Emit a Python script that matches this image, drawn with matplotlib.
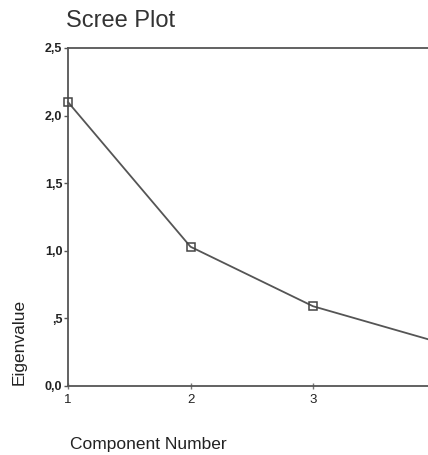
import matplotlib
matplotlib.use("Agg")
import matplotlib.pyplot as plt
from matplotlib.ticker import FixedLocator, FixedFormatter

# eigenvalues per component
components = [1, 2, 3, 4]
eigenvalues = [2.10, 1.03, 0.59, 0.33]

y_ticks = [0.0, 0.5, 1.0, 1.5, 2.0, 2.5]
y_labels = ["0,0", ",5", "1,0", "1,5", "2,0", "2,5"]
x_ticks = [1, 2, 3]
x_labels = ["1", "2", "3"]

plt.rcParams['font.family'] = ['Liberation Sans', 'DejaVu Sans']

W, H = 428, 455
fig = plt.figure(figsize=(W / 100, H / 100), dpi=100)
fig.patch.set_facecolor("white")

left, right, top, bottom = 68, 428, 48, 386
ax = fig.add_axes([left / W, (H - bottom) / H, (right - left) / W, (bottom - top) / H])

ax.plot(components, eigenvalues, color="#555555", linewidth=1.3,
        marker="s", markersize=6, markerfacecolor="none",
        markeredgecolor="#444444", markeredgewidth=1.1, clip_on=False, zorder=3)

ax.set_xlim(1, 1 + (right - left) / 122.5)
ax.set_ylim(0, 2.5)

ax.yaxis.set_major_locator(FixedLocator(y_ticks))
ax.yaxis.set_major_formatter(FixedFormatter(y_labels))
ax.xaxis.set_major_locator(FixedLocator(x_ticks))
ax.xaxis.set_major_formatter(FixedFormatter(x_labels))

for s in ["left", "bottom", "top"]:
    ax.spines[s].set_color("#555555")
    ax.spines[s].set_linewidth(1.3)
ax.spines["right"].set_visible(False)

ax.tick_params(axis="y", direction="out", length=3, width=1, color="#555555",
               labelsize=9, labelcolor="#222222", pad=1)
ax.tick_params(axis="x", direction="inout", length=4, width=1, color="#777777",
               labelsize=9.5, labelcolor="#222222", pad=4)
for t in ax.get_yticklabels():
    t.set_fontweight("bold")

fig.text(66 / W, 1 - 21 / H, "Scree Plot", fontsize=17, color="#333333",
         ha="left", va="center")
fig.text(19 / W, 1 - 342 / H, "Eigenvalue", fontsize=12.5, color="#222222",
         rotation=90, ha="center", va="center")
fig.text(70 / W, 1 - 444 / H, "Component Number", fontsize=12.5, color="#222222",
         ha="left", va="center")

fig.savefig("out.png", dpi=100, facecolor="white")
